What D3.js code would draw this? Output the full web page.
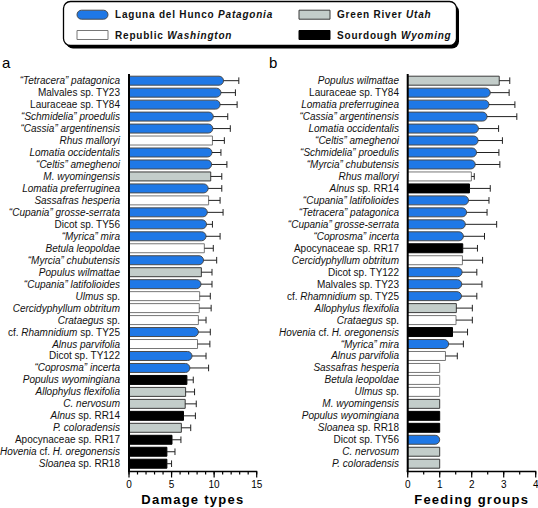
<!DOCTYPE html>
<html><head><meta charset="utf-8">
<script src="https://cdn.jsdelivr.net/npm/d3@7"></script>
<style>body{margin:0;background:#fff}svg{display:block}text{font-family:"Liberation Sans",Arial,sans-serif}</style>
</head><body><svg id="c" width="538" height="508"></svg>
<script>
// ---- data ----
const sites = ["P","R","G","S"];
const siteNames = ["Laguna del Hunco *Patagonia*","Republic *Washington*","Green River *Utah*","Sourdough *Wyoming*"];

const damageLabels = ["*“Tetracera” patagonica*","Malvales sp. TY23","Lauraceae sp. TY84","*“Schmidelia” proedulis*","*“Cassia” argentinensis*","*Rhus malloryi*","*Lomatia occidentalis*","*“Celtis” ameghenoi*","*M. wyomingensis*","*Lomatia preferruginea*","*Sassafras hesperia*","*“Cupania” grosse-serrata*","Dicot sp. TY56","*“Myrica” mira*","*Betula leopoldae*","*“Myrcia” chubutensis*","*Populus wilmattae*","*“Cupania” latifolioides*","*Ulmus* sp.","*Cercidyphyllum obtritum*","*Crataegus* sp.","cf. *Rhamnidium* sp. TY25","*Alnus parvifolia*","Dicot sp. TY122","*“Coprosma” incerta*","*Populus wyomingiana*","*Allophylus flexifolia*","*C. nervosum*","*Alnus* sp. RR14","*P. coloradensis*","Apocynaceae sp. RR17","*Hovenia* cf. *H. oregonensis*","*Sloanea* sp. RR18"];
const damageSite = ["P","P","P","P","P","R","P","P","G","P","R","P","P","P","R","P","G","P","R","R","R","P","R","P","P","S","G","G","S","G","S","S","S"];
const damageValues = [11.1,10.8,10.7,9.9,9.85,9.8,9.75,9.7,9.6,9.3,9.35,9.2,9.1,9.05,8.85,8.75,8.5,8.45,8.3,8.25,8.15,8.15,8.05,7.4,7.15,6.8,6.65,6.6,6.4,6.15,5.05,4.45,4.45];
const damageUpper = [12.9,12.5,12.7,11.6,11.9,11.2,10.8,11.5,10.9,10.9,10.7,11.05,9.8,10.7,9.9,10.3,9.75,9.75,9.55,9.65,9.05,9.55,9.5,9.05,9.35,7.55,7.7,7.9,7.8,7.25,6.1,5.4,5.0];

const feedLabels = ["*Populus wilmattae*","Lauraceae sp. TY84","*Lomatia preferruginea*","*“Cassia” argentinensis*","*Lomatia occidentalis*","*“Celtis” ameghenoi*","*“Schmidelia” proedulis*","*“Myrcia” chubutensis*","*Rhus malloryi*","*Alnus* sp. RR14","*“Cupania” latifolioides*","*“Tetracera” patagonica*","*“Cupania” grosse-serrata*","*“Coprosma” incerta*","Apocynaceae sp. RR17","*Cercidyphyllum obtritum*","Dicot sp. TY122","Malvales sp. TY23","cf. *Rhamnidium* sp. TY25","*Allophylus flexifolia*","*Crataegus* sp.","*Hovenia* cf. *H. oregonensis*","*“Myrica” mira*","*Alnus parvifolia*","*Sassafras hesperia*","*Betula leopoldae*","*Ulmus* sp.","*M. wyomingensis*","*Populus wyomingiana*","*Sloanea* sp. RR18","Dicot sp. TY56","*C. nervosum*","*P. coloradensis*"];
const feedSite = ["G","P","P","P","P","P","P","P","R","S","P","P","P","P","S","R","P","P","P","G","R","S","P","R","R","R","R","G","S","S","P","G","G"];
const feedValues = [2.86,2.58,2.54,2.48,2.21,2.2,2.15,2.11,1.99,1.93,1.9,1.84,1.8,1.74,1.72,1.71,1.7,1.69,1.68,1.52,1.51,1.4,1.28,1.18,1,1,1,1,1,1,1,1,1];
const feedUpper = [3.19,3.17,3.35,3.41,2.84,2.96,2.85,2.88,2.08,2.58,2.54,2.48,2.78,2.4,2.18,2.34,2.16,2.32,2.16,2.02,2.02,1.87,1.74,1.55,null,null,null,null,null,null,null,null,null];

const damageTicks = [0,5,10,15];
const feedTicks = [0,1,2,3,4];

// ---- styling ----
const fills = {P:"#1f78e6",R:"#ffffff",G:"#c3cdca",S:"#000000"};
const strokes = {P:"#4a4a4a",R:"#777777",G:"#3a3a3a",S:"#000000"};

const svg = d3.select("#c");

function richText(sel, markup){
  markup.split("*").forEach((s,i)=>{
    if(!s) return;
    sel.append("tspan").attr("font-style", i%2? "italic":"normal").text(s);
  });
}

function barPath(x0,x1,y,h,round){
  if(!round) return `M${x0},${y}H${x1}V${y+h}H${x0}Z`;
  const r = Math.min(h/2, (x1-x0));
  return `M${x0},${y}H${x1-r}A${r},${r} 0 0 1 ${x1-r},${y+h}H${x0}Z`;
}

function panel(opts){
  const {labels, site, values, upper, x0, x1, max, ticks, minor, title, letter, letterX, labelX} = opts;
  const x = d3.scaleLinear().domain([0,max]).range([x0,x1]);
  const y = d3.scaleBand().domain(d3.range(labels.length)).range([74.7,469.7]).paddingInner(0.25).paddingOuter(0.125);
  const g = svg.append("g");
  const bw = y.bandwidth();
  // bars
  labels.forEach((l,i)=>{
    const s = site[i];
    g.append("path").attr("d", barPath(x(0), x(values[i]), y(i), bw, s==="P"))
      .attr("fill", fills[s]).attr("stroke", strokes[s]).attr("stroke-width", 1);
    if(upper[i]!=null){
      const cy = y(i)+bw/2;
      g.append("line").attr("x1",x(values[i])).attr("x2",x(upper[i])).attr("y1",cy).attr("y2",cy).attr("stroke","#222").attr("stroke-width",1);
      g.append("line").attr("x1",x(upper[i])).attr("x2",x(upper[i])).attr("y1",cy-3.3).attr("y2",cy+3.3).attr("stroke","#222").attr("stroke-width",1);
    }
    const t = g.append("text").attr("x", labelX).attr("y", y(i)+bw/2).attr("dy","0.35em")
      .attr("text-anchor","end").attr("font-size",10).attr("fill","#111");
    richText(t, l);
  });
  // axes
  const axisY = 471.5;
  g.append("line").attr("x1",x0).attr("x2",x0).attr("y1",74).attr("y2",axisY).attr("stroke","#000").attr("stroke-width",2);
  g.append("line").attr("x1",x0-1).attr("x2",x1+0.5).attr("y1",axisY).attr("y2",axisY).attr("stroke","#000").attr("stroke-width",1.5);
  d3.range(0, max+1e-9, minor).forEach(v=>{
    g.append("line").attr("x1",x(v)).attr("x2",x(v)).attr("y1",axisY).attr("y2",axisY+3).attr("stroke","#000").attr("stroke-width",1.2);
  });
  ticks.forEach(v=>{
    g.append("line").attr("x1",x(v)).attr("x2",x(v)).attr("y1",axisY).attr("y2",axisY+6).attr("stroke","#000").attr("stroke-width",1.2);
    g.append("text").attr("x",x(v)).attr("y",axisY+16.5).attr("text-anchor","middle").attr("font-size",10).text(v);
  });
  g.append("text").attr("x",(x0+x1)/2).attr("y",504).attr("text-anchor","middle")
    .attr("font-size",13).attr("font-weight","bold").attr("letter-spacing",1.25).text(title);
  svg.append("text").attr("x",letterX).attr("y",68).attr("font-size",15).text(letter);
}

panel({labels:damageLabels, site:damageSite, values:damageValues, upper:damageUpper,
  x0:129, x1:256.7, max:15, ticks:damageTicks, minor:1, title:"Damage types", letter:"a", letterX:2, labelX:120});
panel({labels:feedLabels, site:feedSite, values:feedValues, upper:feedUpper,
  x0:407.7, x1:535.7, max:4, ticks:feedTicks, minor:0.5, title:"Feeding groups", letter:"b", letterX:269, labelX:399});

// ---- legend ----
const lg = svg.append("g");
lg.append("rect").attr("x",66).attr("y",4.5).attr("width",393).attr("height",44).attr("rx",7).attr("fill","#000");
lg.append("rect").attr("x",63.5).attr("y",1.5).attr("width",393).attr("height",44).attr("rx",7).attr("fill","#fff").attr("stroke","#000").attr("stroke-width",1.3);
const legPos = [[77,14.7],[77,35],[299,14.7],[299,35]];
sites.forEach((s,i)=>{
  const [lx,ly] = legPos[i];
  lg.append("path").attr("d", s==="P"
      ? `M${lx+4.5},${ly-4.5}H${lx+26.5}A4.5,4.5 0 0 1 ${lx+26.5},${ly+4.5}H${lx+4.5}A4.5,4.5 0 0 1 ${lx+4.5},${ly-4.5}Z`
      : barPath(lx, lx+31, ly-4.5, 9, false))
    .attr("fill", fills[s]).attr("stroke", strokes[s]).attr("stroke-width",1);
  const t = lg.append("text").attr("x",lx+38).attr("y",ly).attr("dy","0.35em")
    .attr("font-size",10).attr("font-weight","bold").attr("letter-spacing",0.8).attr("fill","#111");
  richText(t, siteNames[i]);
});
</script></body></html>
